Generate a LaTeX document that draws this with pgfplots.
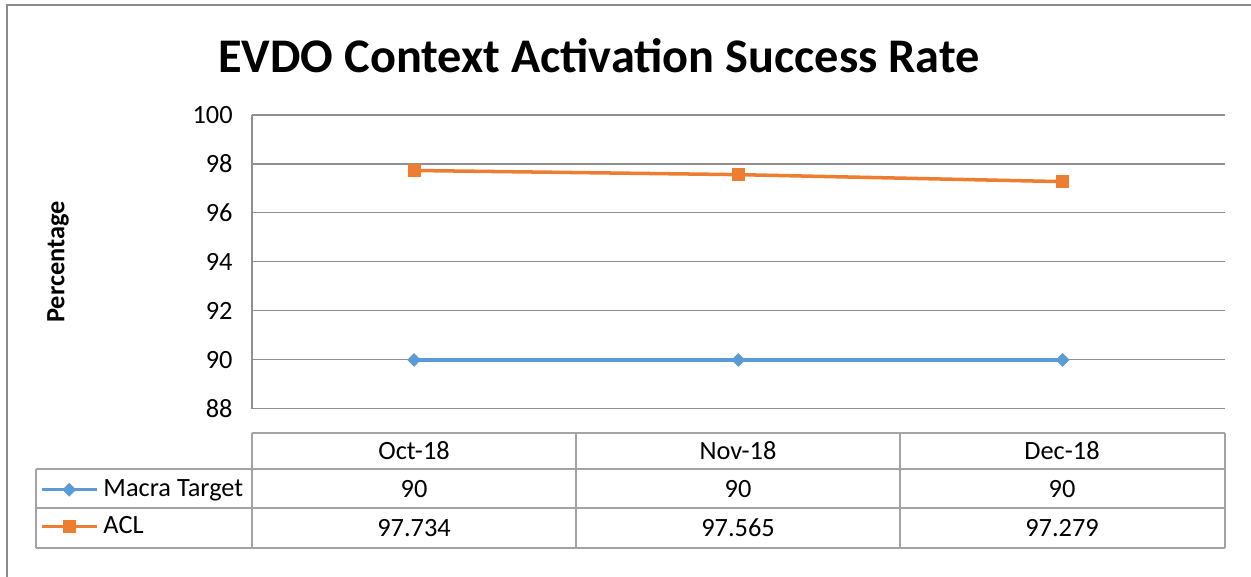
\documentclass[border=0pt]{standalone}
\usepackage{fontspec}
\setmainfont{Carlito}
\usepackage{pgfplots}
\pgfplotsset{compat=1.18}
\definecolor{cblue}{HTML}{5B9BD5}
\definecolor{corange}{HTML}{ED7D31}
\definecolor{gridc}{HTML}{909090}
\definecolor{tabc}{HTML}{A3A3A3}
\definecolor{framec}{HTML}{8A8A8A}
\newcommand{\tf}{\fontsize{15}{18}\selectfont}
\begin{document}
\begin{tikzpicture}
\begin{scope}[x=0.02cm,y=-0.02cm]
\useasboundingbox (0,0) rectangle (1251,576);
\begin{scope}
\clip (0,0) rectangle (1251,576);
\draw[framec, line width=0.04cm] (7,5) rectangle (1300,620);
\end{scope}
\node[font=\fontsize{27.5}{30}\selectfont\bfseries, anchor=base] at (599,72) {EVDO Context Activation Success Rate};
\node[font=\tf\bfseries, rotate=90] at (58,262) {Percentage};
\draw[gridc, line width=0.6pt] (252,115) -- (252,409);
% table
\begin{scope}[tabc, line width=0.6pt]
\draw (252,433) -- (1225,433);
\draw (36,469) -- (1225,469);
\draw (36,508) -- (1225,508);
\draw (36,548) -- (1225,548);
\draw (36,469) -- (36,548);
\draw (252,433) -- (252,548);
\draw (576,433) -- (576,548);
\draw (900,433) -- (900,548);
\draw (1225,433) -- (1225,548);
\end{scope}
\begin{scope}[every node/.style={font=\tf, anchor=base, inner sep=0pt}]
\node at (414,459) {Oct-18};
\node at (738,459) {Nov-18};
\node at (1062,459) {Dec-18};
\node at (414,497) {90};
\node at (738,497) {90};
\node at (1062,497) {90};
\node at (414,536) {97.734};
\node at (738,536) {97.565};
\node at (1062,536) {97.279};
\end{scope}
\end{scope}
\begin{axis}[
  at={(5.04cm,-8.18cm)}, anchor=south west,
  scale only axis, width=19.46cm, height=5.88cm,
  xmin=-0.5, xmax=2.5, ymin=88, ymax=100,
  ytick={88,90,...,100}, xtick=\empty,
  ymajorgrids, grid style={gridc, line width=0.6pt},
  axis line style={draw=none},
  ytick style={draw=none},
  yticklabel style={font=\tf, anchor=east, inner sep=0pt, xshift=-0.38cm},
  /pgf/number format/assume math mode=true,
  clip=false,
  legend cell align=left,
  legend style={at={(axis description cs:-0.2179,-0.2415)}, anchor=north west,
    draw=none, fill=none, inner sep=0pt, outer sep=0pt,
    column sep=0.1cm, row sep=9.8pt, font=\tf,
    nodes={inner sep=0pt}},
  legend image code/.code={
    \draw[mark repeat=2,mark phase=2,#1] plot coordinates {(0cm,0cm) (0.55cm,0cm) (1.1cm,0cm)};
  },
]
\addplot[cblue, line width=2pt, mark=square*, mark size=2.5pt, mark options={solid, rotate=45, line width=0.5pt}] coordinates {(0,90) (1,90) (2,90)};
\addlegendentry{Macra Target}
\addplot[corange, line width=2pt, mark=square*, mark size=3.4pt, mark options={solid, line width=0.5pt}] coordinates {(0,97.734) (1,97.565) (2,97.279)};
\addlegendentry{ACL}
\end{axis}
\end{tikzpicture}
\end{document}
